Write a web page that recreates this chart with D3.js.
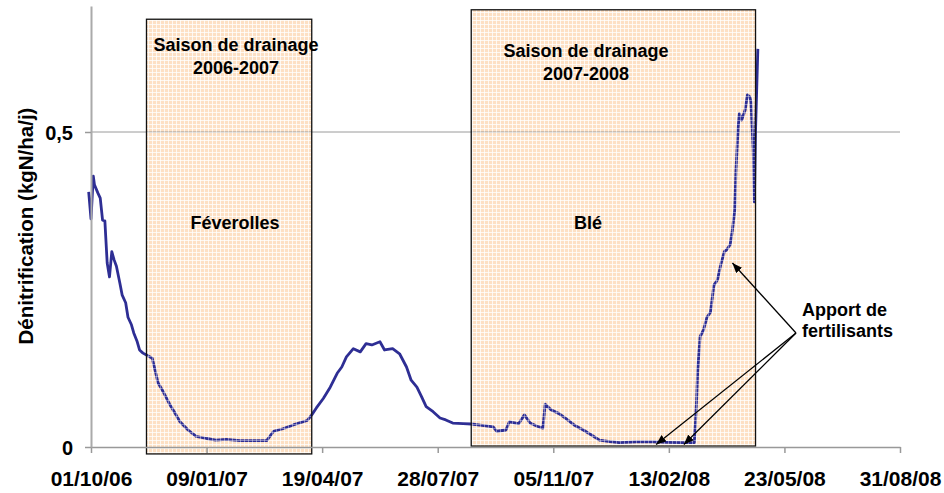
<!DOCTYPE html>
<html><head><meta charset="utf-8">
<script src="https://cdn.jsdelivr.net/npm/d3@7"></script>
<style>
body{margin:0;background:#fff}
svg{display:block}
text{font-family:"Liberation Sans",Arial,sans-serif;font-weight:bold;fill:#000}
</style>
</head><body>
<svg id="chart" width="944" height="493"></svg>
<script>
// ---- data ----
const seriesStart = "01/10/06";
const dayOffsets = [-2,0,2,3,6,8,10,12,14,16,18,20,22,25,27,30,32,35,37,40,42,45,48,53,58,63,68,72,77,84,91,100,108,117,129,140,152,158,166,175,187,191,195,201,207,213,217,221,227,233,238,243,250,254,261,267,273,277,282,286,290,296,302,307,313,322,329,340,348,351,359,362,370,375,380,386,391,393,398,405,411,418,426,433,440,449,457,472,486,498,512,522,523,524,525,527,530,533,536,539,542,545,548,550,553,555,557,558,560,561,563,566,568,570,571,573,574,575,577];
const denitrification = [0.405,0.362,0.430,0.416,0.403,0.395,0.360,0.359,0.292,0.270,0.310,0.297,0.287,0.260,0.241,0.229,0.206,0.194,0.181,0.167,0.154,0.149,0.146,0.141,0.102,0.086,0.068,0.056,0.040,0.027,0.017,0.0135,0.011,0.012,0.010,0.010,0.010,0.025,0.029,0.035,0.042,0.051,0.062,0.077,0.095,0.117,0.127,0.143,0.156,0.151,0.164,0.162,0.167,0.154,0.156,0.148,0.127,0.106,0.095,0.080,0.064,0.056,0.046,0.043,0.038,0.037,0.0365,0.034,0.032,0.025,0.027,0.040,0.037,0.051,0.038,0.033,0.030,0.068,0.059,0.053,0.045,0.035,0.027,0.019,0.011,0.0085,0.007,0.008,0.008,0.0075,0.007,0.007,0.038,0.075,0.122,0.175,0.186,0.206,0.214,0.257,0.265,0.290,0.310,0.313,0.321,0.344,0.376,0.437,0.508,0.529,0.519,0.535,0.559,0.556,0.548,0.471,0.389,0.503,0.632];
const xTickLabels = ["01/10/06","09/01/07","19/04/07","28/07/07","05/11/07","13/02/08","23/05/08","31/08/08"];
const yTickValues = [0, 0.5];
const yTickLabels = ["0", "0,5"];
const seasonStarts = ["18/11/06", "26/08/07"];
const seasonEnds = ["10/04/07", "28/04/08"];
const seasonTitles = [["Saison de drainage", "2006-2007"], ["Saison de drainage", "2007-2008"]];
const cropLabels = ["Féverolles", "Blé"];
const annotationText = ["Apport de", "fertilisants"];
const fertilisationDates = ["08/04/08", "02/02/08", "26/02/08"];
const fertilisationValues = [0.292, 0.004, 0.004];
const yAxisTitle = "Dénitrification (kgN/ha/j)";

// ---- setup ----
const parse = d3.utcParse("%d/%m/%y");
const fmt = d3.utcFormat("%d/%m/%y");
const svg = d3.select("#chart");
const x = d3.scaleUtc().domain([parse(xTickLabels[0]), parse(xTickLabels[xTickLabels.length - 1])]).range([91, 900]);
const y = d3.scaleLinear().domain([0, 0.7]).range([447, 6]);
const t0 = parse(seriesStart).getTime();
const points = dayOffsets.map((d, i) => ({date: new Date(t0 + d * 864e5), v: denitrification[i]}));

const defs = svg.append("defs");
// base hatch pattern
const pb = defs.append("pattern").attr("id", "hatchBase").attr("patternUnits", "userSpaceOnUse").attr("width", 4).attr("height", 4);
pb.append("rect").attr("width", 4).attr("height", 4).attr("fill", "#fde0c4");
pb.append("rect").attr("width", 1).attr("height", 4).attr("fill", "#fff").attr("opacity", 0.6);
pb.append("rect").attr("width", 4).attr("height", 1).attr("fill", "#fff").attr("opacity", 0.6);
// overlay pattern
const po = defs.append("pattern").attr("id", "hatchOver").attr("patternUnits", "userSpaceOnUse").attr("width", 4).attr("height", 4);
po.append("rect").attr("width", 1).attr("height", 4).attr("fill", "#fff").attr("opacity", 0.4);
po.append("rect").attr("width", 4).attr("height", 1).attr("fill", "#fff").attr("opacity", 0.4);
defs.append("marker").attr("id", "arrow").attr("markerUnits", "userSpaceOnUse")
  .attr("markerWidth", 11).attr("markerHeight", 8).attr("refX", 10).attr("refY", 4).attr("orient", "auto")
  .append("path").attr("d", "M0,0L10,4L0,8z").attr("fill", "#000");

const seasons = seasonStarts.map((s, i) => ({s: parse(s), e: parse(seasonEnds[i]), i}));
const seasonTop = [0.679, 0.694];
const seasonBottom = [-0.011, 0.0015];

// base fills
svg.append("g").selectAll("rect").data(seasons).join("rect")
  .attr("x", d => x(d.s)).attr("width", d => x(d.e) - x(d.s))
  .attr("y", d => y(seasonTop[d.i])).attr("height", d => y(seasonBottom[d.i]) - y(seasonTop[d.i]))
  .attr("fill", "url(#hatchBase)");

// gridline
svg.append("g").selectAll("line").data(yTickValues.filter(v => v > 0)).join("line")
  .attr("x1", x.range()[0]).attr("x2", x.range()[1]).attr("y1", d => y(d)).attr("y2", d => y(d))
  .attr("stroke", "#9a9a9a").attr("stroke-width", 1);

// line
svg.append("path").datum(points)
  .attr("d", d3.line().x(d => x(d.date)).y(d => y(d.v)))
  .attr("fill", "none").attr("stroke", "#2e2e94").attr("stroke-width", 2.8)
  .attr("stroke-linejoin", "round");

// overlay + border
svg.append("g").selectAll("rect").data(seasons).join("rect")
  .attr("x", d => x(d.s)).attr("width", d => x(d.e) - x(d.s))
  .attr("y", d => y(seasonTop[d.i])).attr("height", d => y(seasonBottom[d.i]) - y(seasonTop[d.i]))
  .attr("fill", "url(#hatchOver)").attr("stroke", "#111").attr("stroke-width", 1.3);

// x axis
const xAxis = svg.append("g").attr("transform", `translate(0,${y(0)})`)
  .call(d3.axisBottom(x).tickValues(xTickLabels.map(parse)).tickFormat(fmt).tickSize(6).tickSizeOuter(0));
xAxis.select(".domain").attr("stroke", "#999").attr("stroke-width", 1.5);
xAxis.selectAll(".tick line").attr("stroke", "#999").attr("stroke-width", 1.5);
xAxis.selectAll(".tick text").attr("y", 39).attr("dy", null)
  .style("font-size", "21px").style("font-family", '"Liberation Sans",Arial,sans-serif').style("font-weight", "bold").attr("fill", "#000");

// y axis
const yAxis = svg.append("g").attr("transform", `translate(${x.range()[0]},0)`)
  .call(d3.axisLeft(y).tickValues(yTickValues).tickFormat((d, i) => yTickLabels[i]).tickSize(6).tickSizeOuter(0).tickPadding(12));
yAxis.select(".domain").attr("stroke", "#aaa").attr("stroke-width", 2);
yAxis.selectAll(".tick line").attr("stroke", "#999").attr("stroke-width", 1.5);
yAxis.selectAll(".tick text").attr("dy", "0.36em")
  .style("font-size", "20px").style("font-family", '"Liberation Sans",Arial,sans-serif').style("font-weight", "bold").attr("fill", "#000");

// y title
svg.append("text").attr("transform", "rotate(-90)").attr("x", -226).attr("y", 33)
  .attr("text-anchor", "middle").style("font-size", "20.5px").text(yAxisTitle);

// season titles
const titlePos = [[236, 51], [586, 57]];
const cropPos = [[235, 229], [588, 229]];
seasonTitles.forEach((lines, i) => {
  const t = svg.append("text").attr("text-anchor", "middle").style("font-size", "18px");
  lines.forEach((l, j) => t.append("tspan").attr("x", titlePos[i][0]).attr("y", titlePos[i][1] + j * 22.5).text(l));
  svg.append("text").attr("text-anchor", "middle").style("font-size", "18px")
    .attr("x", cropPos[i][0]).attr("y", cropPos[i][1]).text(cropLabels[i]);
});

// annotation
const ann = svg.append("text").style("font-size", "18px");
annotationText.forEach((l, j) => ann.append("tspan").attr("x", 802).attr("y", 316 + j * 21).text(l));
const origin = [796, 333];
svg.append("g").selectAll("line").data(fertilisationDates).join("line")
  .attr("x1", origin[0]).attr("y1", origin[1])
  .attr("x2", (d, i) => x(parse(d))).attr("y2", (d, i) => y(fertilisationValues[i]))
  .attr("stroke", "#000").attr("stroke-width", 1.3).attr("marker-end", "url(#arrow)");
</script>
</body></html>
